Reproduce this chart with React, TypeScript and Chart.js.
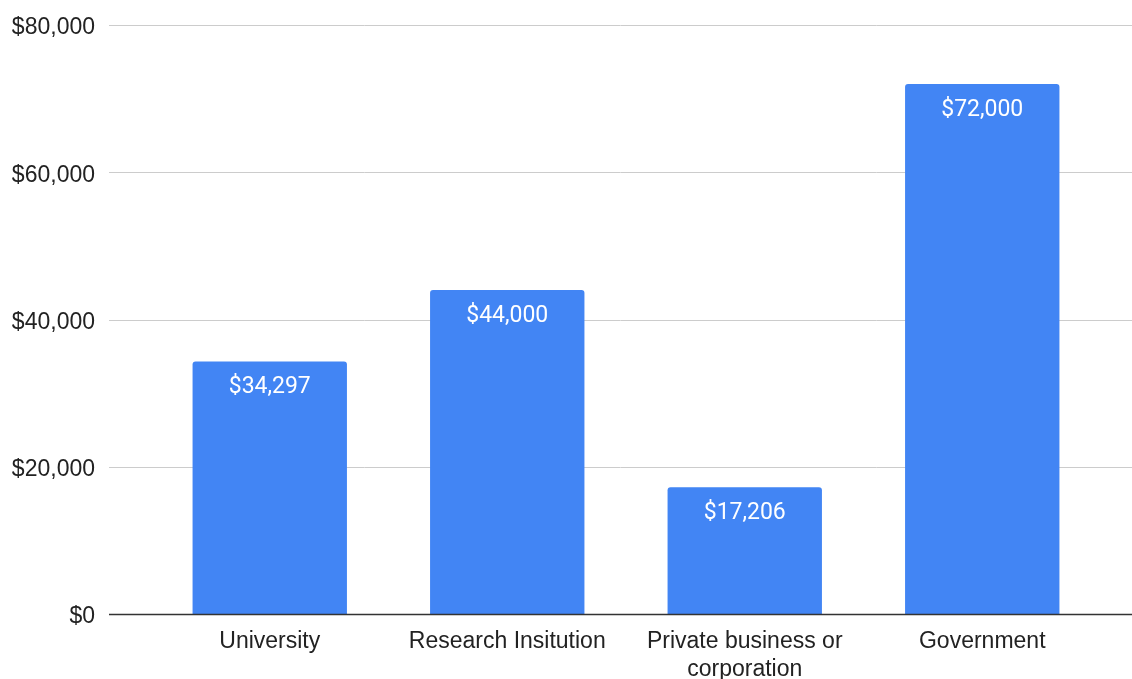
import React, { useEffect, useRef } from "react";
import { Chart, registerables } from "chart.js";

Chart.register(...registerables);

const categories: (string | string[])[] = [
  "University",
  "Research Insitution",
  ["Private business or", "corporation"],
  "Government",
];
const salaries: number[] = [34297, 44000, 17206, 72000];
const yTicks: number[] = [0, 20000, 40000, 60000, 80000];

const fmt = (v: number) => "$" + v.toLocaleString("en-US");
const AXIS_FONT = "'Liberation Sans', Arial, sans-serif";

const gridPlugin = {
  id: "fullGrid",
  beforeDatasetsDraw(chart: any) {
    const { ctx } = chart;
    const y = chart.scales.y;
    ctx.save();
    ctx.strokeStyle = "#cccccc";
    ctx.lineWidth = 1;
    yTicks.forEach((t) => {
      if (t === 0) return;
      const py = Math.round(y.getPixelForValue(t)) + 0.5;
      ctx.beginPath();
      ctx.moveTo(109, py);
      ctx.lineTo(chart.width, py);
      ctx.stroke();
    });
    ctx.restore();
  },
  afterDatasetsDraw(chart: any) {
    const { ctx } = chart;
    const y = chart.scales.y;
    const py = Math.round(y.getPixelForValue(0)) + 0.5;
    ctx.save();
    ctx.strokeStyle = "#333333";
    ctx.lineWidth = 1.5;
    ctx.beginPath();
    ctx.moveTo(109, py);
    ctx.lineTo(chart.width, py);
    ctx.stroke();
    const meta = chart.getDatasetMeta(0);
    ctx.fillStyle = "#ffffff";
    ctx.font = "23px Roboto";
    ctx.textAlign = "center";
    ctx.textBaseline = "middle";
    meta.data.forEach((bar: any, i: number) => {
      ctx.fillText(fmt(salaries[i]), bar.x, bar.y + 26);
    });
    ctx.restore();
  },
};

export default function App() {
  const ref = useRef<HTMLCanvasElement>(null);
  useEffect(() => {
    if (!ref.current) return;
    const chart = new Chart(ref.current, {
      type: "bar",
      data: {
        labels: categories as any,
        datasets: [
          {
            data: salaries,
            backgroundColor: "#4285F4",
            borderRadius: { topLeft: 3, topRight: 3, bottomLeft: 0, bottomRight: 0 },
            borderSkipped: false,
            categoryPercentage: 1,
            barPercentage: 0.65,
          },
        ],
      },
      options: {
        animation: false,
        responsive: false,
        maintainAspectRatio: false,
        layout: { padding: { top: 25, right: 31, left: 0, bottom: 0 } },
        plugins: { legend: { display: false }, tooltip: { enabled: false } },
        scales: {
          x: {
            grid: { display: false, drawTicks: false },
            border: { display: false },
            ticks: {
              color: "#222222",
              font: { family: AXIS_FONT, size: 23, lineHeight: 1.2 },
              padding: 14,
              maxRotation: 0,
              autoSkip: false,
            },
            afterFit: (s: any) => {
              s.height = 65;
              s.paddingTop = 0;
              s.paddingBottom = 0;
              s.paddingLeft = 0;
              s.paddingRight = 0;
            },
          },
          y: {
            min: 0,
            max: 80000,
            grid: { display: false, drawTicks: false },
            border: { display: false },
            afterBuildTicks: (s: any) => {
              s.ticks = yTicks.map((v) => ({ value: v }));
            },
            ticks: {
              color: "#222222",
              font: { family: AXIS_FONT, size: 23 },
              padding: 56,
              labelOffset: 3,
              callback: (v: any) => fmt(Number(v)),
            },
            afterFit: (s: any) => {
              s.width = 151;
              s.paddingTop = 0;
              s.paddingBottom = 0;
              s.paddingLeft = 0;
              s.paddingRight = 0;
            },
          },
        },
      },
      plugins: [gridPlugin],
    });
    return () => chart.destroy();
  }, []);
  return (
    <div style={{ position: "fixed", left: 0, top: 0, width: 1132, height: 679, background: "#fff" }}>
      <canvas ref={ref} width={1132} height={679} style={{ display: "block" }} />
    </div>
  );
}
